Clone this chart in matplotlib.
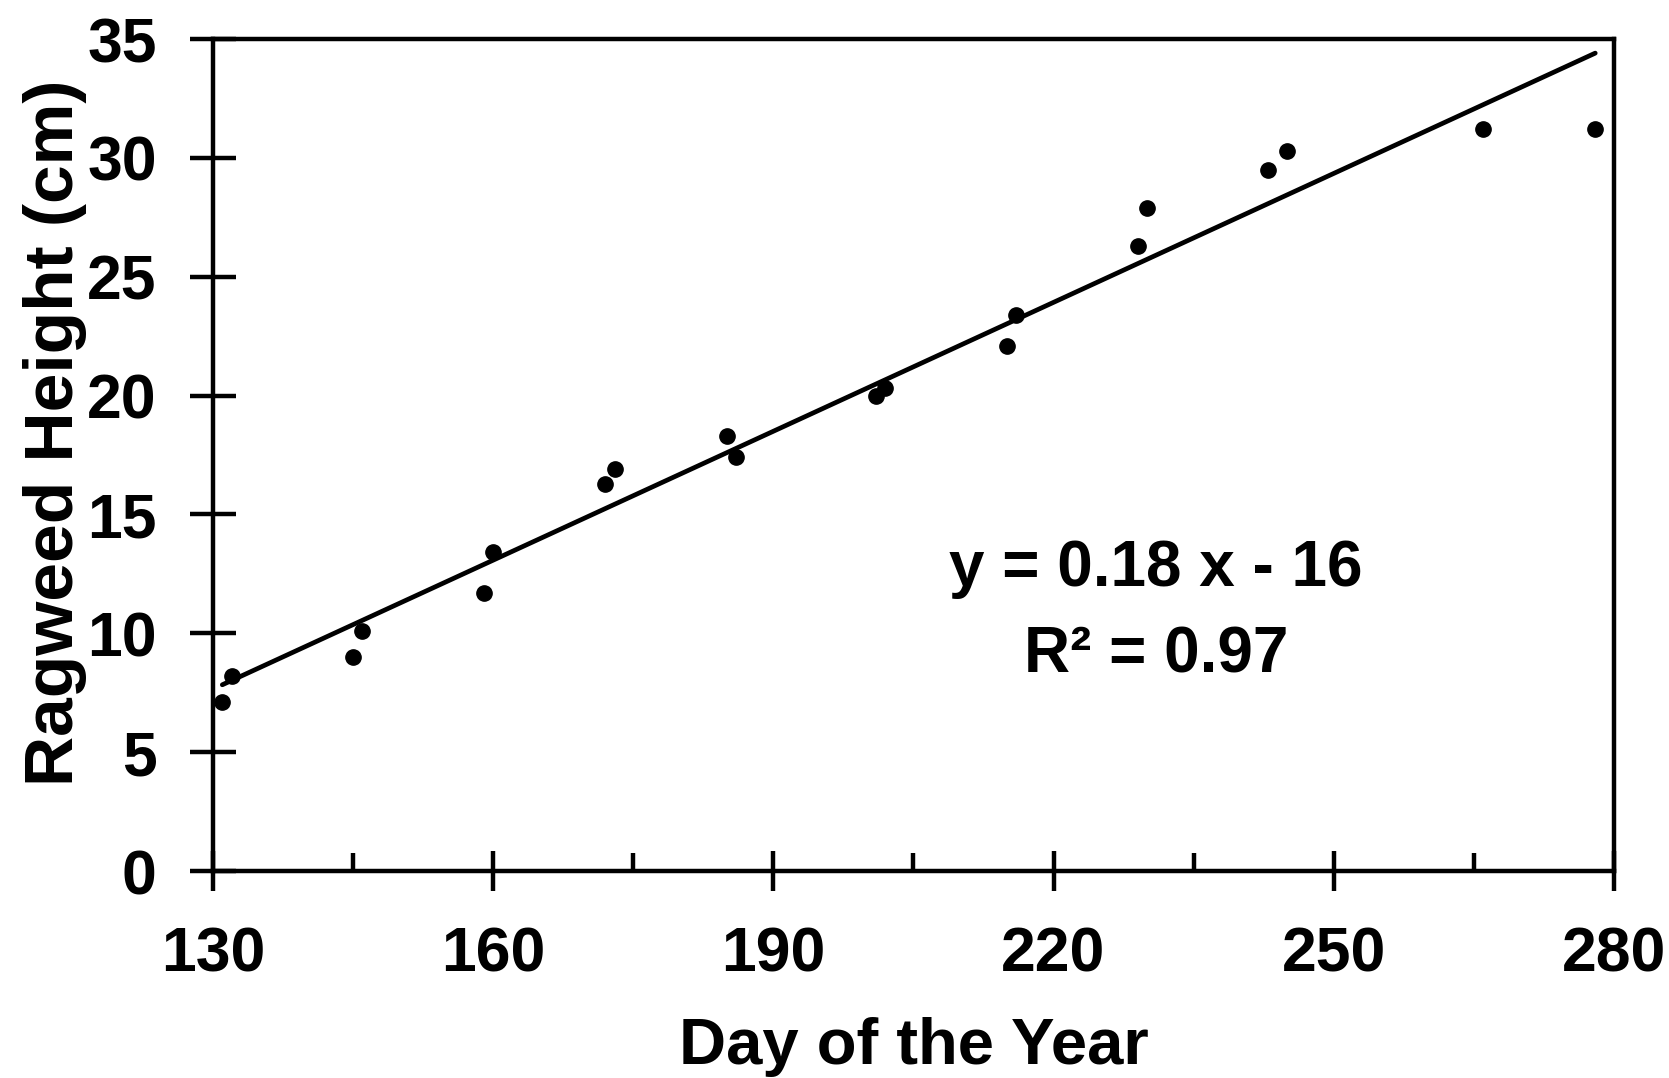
import numpy as np
import matplotlib
matplotlib.use("Agg")
import matplotlib.pyplot as plt

# ragweed height measurements through the season
day = [131, 132, 145, 146, 159, 160, 172, 173, 185, 186,
       201, 202, 215, 216, 229, 230, 243, 245, 266, 278]
height = [7.1, 8.2, 9.0, 10.1, 11.7, 13.4, 16.3, 16.9, 18.3, 17.4,
          20.0, 20.3, 22.1, 23.4, 26.3, 27.9, 29.5, 30.3, 31.2, 31.2]

x_ticks = [130, 160, 190, 220, 250, 280]
x_minor = [145, 175, 205, 235, 265]
y_ticks = [0, 5, 10, 15, 20, 25, 30, 35]

eq_text = "y = 0.18 x - 16"
r2_text = "R\u00b2 = 0.97"

plt.rcParams["font.family"] = ["Liberation Sans", "DejaVu Sans"]
plt.rcParams["font.weight"] = "bold"

fig = plt.figure(figsize=(16.69, 10.78), dpi=100)
ax = fig.add_axes([0.1276, 0.192, 0.8394, 0.7718])

# linear trend over the measured range
slope, icpt = np.polyfit(day, height, 1)
xs = np.array([min(day), max(day)])
ax.plot(xs, slope * xs + icpt, color="black", lw=3.4, solid_capstyle="round")
ax.plot(day, height, "o", color="black", ms=11, mec="black")

ax.set_xlim(130, 280)
ax.set_ylim(0, 35)
ax.set_xticks(x_ticks)
ax.set_xticks(x_minor, minor=True)
ax.set_yticks(y_ticks)

for s in ax.spines.values():
    s.set_linewidth(3.2)
    s.set_color("black")

ax.tick_params(axis="x", which="major", direction="inout", length=29, width=3.2,
               pad=24.5, labelsize=45)
ax.tick_params(axis="x", which="minor", direction="in", length=13, width=3.2)
ax.tick_params(axis="y", which="major", direction="inout", length=33, width=3.2,
               pad=24, labelsize=45)

for lab in ax.get_xticklabels() + ax.get_yticklabels():
    lab.set_fontweight("bold")

ax.set_xlabel("Day of the Year", fontsize=47, fontweight="bold")
ax.set_ylabel("Ragweed Height (cm)", fontsize=50, fontweight="bold")
ax.xaxis.set_label_coords(0.5, -0.176)
ax.yaxis.set_label_coords(-0.090, 0.527)

ax.text(0.673, 0.363, eq_text, transform=ax.transAxes, ha="center", va="center",
        fontsize=46, fontweight="bold")
ax.text(0.673, 0.2596, r2_text, transform=ax.transAxes, ha="center", va="center",
        fontsize=46, fontweight="bold")

fig.savefig("out.png", dpi=100, facecolor="white")
